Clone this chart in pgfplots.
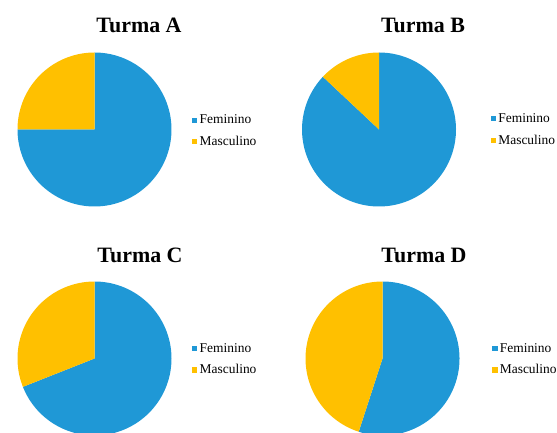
\documentclass[border=0pt]{standalone}
\usepackage{fontspec}
\setmainfont{Liberation Serif}
\usepackage{pgfplots}
\usepackage{pgfplotstable}
\pgfplotsset{compat=1.18}
\definecolor{fem}{RGB}{31,152,214}
\definecolor{mas}{RGB}{255,192,0}

% percentages per class: Feminino, Masculino
\pgfplotstableread{
turma fem mas
A 75 25
B 87 13
C 69 31
D 55 45
}\piedata

\pgfplotsset{
  piestyle/.style={
    scale only axis, width=154bp, height=154bp,
    xmin=-1, xmax=1, ymin=-1, ymax=1,
    hide axis, clip=false, anchor=center,
    legend image code/.code={\fill[##1] (0bp,-2.6bp) rectangle (5.2bp,2.6bp); \path (6.5bp,0bp);},
    legend style={draw=none, fill=none, inner sep=0pt, anchor=west,
      font=\fontsize{13.5}{13.5}\selectfont, row sep=9bp,
      cells={anchor=west}, nodes={inner sep=1bp, text depth=0.15em}},
  },
}

\newcommand\getpie[1]{%
  \pgfplotstablegetelem{#1}{fem}\of\piedata \let\vf\pgfplotsretval
  \pgfplotstablegetelem{#1}{mas}\of\piedata \let\vm\pgfplotsretval
  \pgfmathsetmacro\af{90-3.6*\vf}%
  \pgfmathsetmacro\am{90+3.6*\vm}%
}

\begin{document}
\begin{tikzpicture}[x=1bp,y=1bp]
\useasboundingbox (0,0) rectangle (557,432);

% Turma A
\getpie{0}
\begin{axis}[piestyle, at={(94.5bp,302.5bp)},
  legend style={at={(rel axis cs:1.133,0.49)}}]
\addplot[fill=fem, draw=none, domain=\af:90, samples=120] ({cos(x)},{sin(x)}) -- (axis cs:0,0) -- cycle;
\addplot[fill=mas, draw=none, domain=90:\am, samples=60] ({cos(x)},{sin(x)}) -- (axis cs:0,0) -- cycle;
\legend{Feminino, Masculino}
\end{axis}

% Turma B
\getpie{1}
\begin{axis}[piestyle, at={(379bp,302.5bp)},
  legend style={at={(rel axis cs:1.225,0.5)}}]
\addplot[fill=fem, draw=none, domain=\af:90, samples=120] ({cos(x)},{sin(x)}) -- (axis cs:0,0) -- cycle;
\addplot[fill=mas, draw=none, domain=90:\am, samples=60] ({cos(x)},{sin(x)}) -- (axis cs:0,0) -- cycle;
\legend{Feminino, Masculino}
\end{axis}

% Turma C
\getpie{2}
\begin{axis}[piestyle, at={(94.5bp,73.5bp)},
  legend style={at={(rel axis cs:1.133,0.495)}}]
\addplot[fill=fem, draw=none, domain=\af:90, samples=120] ({cos(x)},{sin(x)}) -- (axis cs:0,0) -- cycle;
\addplot[fill=mas, draw=none, domain=90:\am, samples=60] ({cos(x)},{sin(x)}) -- (axis cs:0,0) -- cycle;
\legend{Feminino, Masculino}
\end{axis}

% Turma D
\getpie{3}
\begin{axis}[piestyle, at={(382.5bp,73.5bp)},
  legend style={at={(rel axis cs:1.212,0.495)}}]
\addplot[fill=fem, draw=none, domain=\af:90, samples=120] ({cos(x)},{sin(x)}) -- (axis cs:0,0) -- cycle;
\addplot[fill=mas, draw=none, domain=90:\am, samples=60] ({cos(x)},{sin(x)}) -- (axis cs:0,0) -- cycle;
\legend{Feminino, Masculino}
\end{axis}

% titles
\node[font=\bfseries\fontsize{22}{22}\selectfont] at (139,407) {Turma A};
\node[font=\bfseries\fontsize{22}{22}\selectfont] at (423,407) {Turma B};
\node[font=\bfseries\fontsize{22}{22}\selectfont] at (140,177) {Turma C};
\node[font=\bfseries\fontsize{22}{22}\selectfont] at (424,177) {Turma D};
\end{tikzpicture}
\end{document}
